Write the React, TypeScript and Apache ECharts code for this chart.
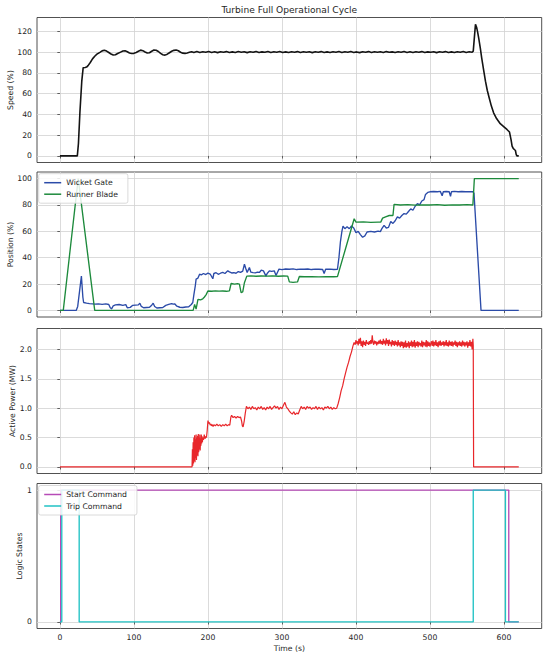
import React, { useEffect, useRef } from "react";
import * as echarts from "echarts";

const titleText = "Turbine Full Operational Cycle";
const xTicks = [0, 100, 200, 300, 400, 500, 600];
const speedTicks = [0, 20, 40, 60, 80, 100, 120];
const posTicks = [0, 20, 40, 60, 80, 100];
const powerTicks = [0, 0.5, 1.0, 1.5, 2.0];
const logicTicks = [0, 1];

const speed: number[][] = [
  [0,0],[23.5,0],[25,12],[27,42],[29.5,72],[31.4,85],[34,85.2],[36,85.6],[38,87],[41,90],[44,93.5],[47,96],[50,98],[54,99.8],[57,101.2],[60,101.8],[63,101],[66,99.6],[69,98.2],[72,97.2],[75,97.4],[78,98.6],[82,100],[85,101],[88,101.3],[91,100.4],[94,99.2],[97,98.7],[100,98.8],[103,99.6],[106,100.8],[109,101.9],[112,101.4],[115,100.1],[118,99.2],[121,99.4],[124,100.8],[127,102],[130,101.8],[133,100.6],[136,98.8],[139,97.5],[142,97.1],[145,98],[148,99.4],[151,100.8],[154,101.7],[157,102],[160,101.3],[163,99.9],[166,99],[169,98.8],[172,99.2],[175,99.8],
  [178,100.4],[181,99.7],[185,100.5],[189,99.6],[193,100.4],[197,99.8],[201,100.6],[205,99.7],[209,100.3],[213,99.5],[217,100.4],[221,99.9],[225,100.5],[229,99.6],[233,100.2],[237,99.7],[241,100.5],[245,99.8],[249,100.4],[253,99.5],[257,100.3],[261,99.8],[265,100.5],[269,99.6],[273,100.2],[277,99.9],[281,100.6],[285,99.6],[289,100.3],[293,99.8],[297,100.5],[301,99.7],[305,100.2],[309,99.6],[313,100.4],[317,99.9],[321,100.5],[325,99.6],[329,100.3],[333,99.8],[337,100.4],[341,99.5],[345,100.3],[349,99.9],[353,100.5],[357,99.7],[361,100.2],[365,99.6],[369,100.4],[373,99.8],[377,100.5],[381,99.6],[385,100.3],[389,99.8],[393,100.6],[397,99.7],[401,100.2],[405,99.5],[409,100.4],[413,99.9],[417,100.5],[421,99.6],[425,100.3],[429,99.8],[433,100.4],[437,99.6],[441,100.5],[445,99.9],[449,100.2],[453,99.6],[457,100.4],[461,99.8],[465,100.5],[469,99.7],[473,100.3],[477,99.6],[481,100.4],[485,99.9],[489,100.5],[493,99.6],[497,100.2],[501,99.8],[505,100.4],[509,99.5],[513,100.3],[517,99.9],[521,100.5],[525,99.7],[529,100.2],[533,99.6],[537,100.4],[541,99.8],[545,100.5],[549,99.7],[553,100.3],[557,99.9],
  [558.5,101],[560,114],[561.5,126.7],[563,124],[564.5,119],[566,113],[568,104],[570,94],[572.5,83],[575,72],[577.5,63],[580,56],[583,48],[586,41.5],[590,36],[595,31],[600,28],[604,25.5],[607.5,23],[609.5,16],[611,9.5],[612.5,7.2],[614,6.2],[615.5,5.2],[616.5,1.5],[617.5,0],[620,0]
];

const wicketGate: number[][] = [
  [0,0],[22,0],[24,3],[29,26],[31,10],[32,6],[36,5.5],[40,5.2],[44,5],[47,4.8],[52,5],[57,4.6],[62,5],[66,4.5],[68,2],[70,1.2],[72,3.5],[75,4.2],[80,4.5],[85,3.8],[89,4.4],[91,2],[95,2.3],[98,3.8],[102,4],[106,4.2],[108,5.5],[110,3],[113,2],[117,2.2],[121,2.4],[124,4],[126,5.5],[128,3],[131,1.8],[135,2],[139,2.2],[143,3.8],[147,4.5],[151,5.2],[153,4.8],[155,5],[158,3.2],[162,2.4],[166,2.2],[170,2.6],[174,2.8],[177.5,4.5],[179.5,6],[181,12],[183,19],[184,23.7],[186.5,24.5],[188.7,27.5],[191,27],[194,28],[197,27.2],[200,28.3],[203,27.6],[206.6,24],[208,28],[211,28.6],[214,27.4],[217,28.2],[220,28.8],[223,28],[226.8,30],[229,29.2],[232,28.4],[235,28.6],[238,28.2],[241,29.5],[244,28.8],[247,29.8],[249.3,35],[251,32],[253,28.8],[256,32.6],[258,29],[261,28.7],[264,28.5],[267,29],[269.5,28.8],[272,30.5],[275,30],[278.4,26],[280,28],[283,30],[286,29.6],[289.6,30],[292,26.5],[294,29],[296,31.3],[300,31],[305,31.4],[310,31.2],[315,31.5],[320,31],[325,31.3],[330,31.2],[335,31.4],[340,31],[345,31.3],[350,31.2],[355,31],[357,28],[359,31.2],[365,31.3],[370,31],[375,31.2],[377,40],[379,52],[381,60],[382.5,64],[385,62],[388,63.5],[391,62],[394,64],[397,62.5],[400,59],[403,60],[406,57.5],[409,55.5],[412,56.5],[415,59.5],[420,60],[425,59.5],[430,60.2],[433,59.8],[435,62],[438,64.5],[441,62.5],[444,63],[447,67.5],[450,66],[453,68],[456,71],[459,70],[462,72],[465,73.5],[468,73],[471,75],[474,77],[477,76],[480,79],[483,81],[486,80],[489,83],[492,84],[494,88],[497,89.5],[500,90],[505,90.2],[510,90],[514,90.3],[516.5,87],[518,90],[522,90.2],[526,90],[527.8,86.5],[529,90],[533,90.3],[538,90],[543,90.2],[548,90],[553,90.1],[558,90],[559.5,89],[569,0],[620,0]
];

const runnerBlade: number[][] = [
  [0,0],[4.5,0],[24.7,100],[47,0],[180,0],[182,4.5],[184,1],[186.5,8.4],[190,8],[193,8.8],[195,10],[197.6,12],[199.9,14.7],[205,14.5],[210,14.8],[215,14.6],[220,14.7],[225,14.5],[229,14.8],[231.3,20.4],[236,20],[240,20.3],[242.5,20],[244.8,13.5],[247,14],[249.3,21],[252.5,26],[258,26.2],[265,25.9],[272,26.1],[280,26],[287,26.2],[295,25.9],[302,26.1],[307.8,26],[310,21.6],[315,21.3],[321,21.6],[323.5,25.7],[330,25.5],[340,25.6],[350,25.4],[360,25.6],[370,25.5],[375,25.6],[386,47],[397.6,69.5],[400,67],[410,67.2],[420,66.8],[430,67],[433.5,67],[436,70],[440,71],[445,72],[450,72],[451.5,80.4],[460,80],[470,80.2],[480,79.9],[490,80.1],[500,80],[510,80.2],[520,79.8],[530,80.1],[540,80],[550,80.2],[558,80],[560,100],[620,100]
];

const activePower: number[][] = [
  [0,0],[178.5,0],[179,0.3],[179.5,0.02],[180,0.42],[180.5,0.06],[181,0.5],[181.5,0.1],[182,0.54],[182.5,0.08],[183,0.47],[183.5,0.15],[184,0.55],[184.5,0.12],[185,0.5],[185.5,0.2],[186,0.53],[186.5,0.18],[187,0.56],[187.5,0.25],[188,0.5],[188.5,0.3],[189,0.55],[189.5,0.28],[190,0.48],[190.5,0.36],[191,0.55],[191.5,0.4],[192,0.52],[192.5,0.42],[193,0.5],[194,0.46],[195,0.55],[196,0.48],[197,0.52],[198,0.5],[199,0.62],[200,0.79],[201,0.74],[202,0.76],[203,0.71],[204,0.73],[205,0.7],[206,0.72],[207,0.69],[208,0.72],[210,0.7],[212,0.73],[214,0.7],[216,0.72],[218,0.69],[220,0.72],[222,0.7],[224,0.73],[226,0.7],[228,0.72],[229.5,0.71],[231,0.85],[232,0.88],[234,0.84],[236,0.86],[238,0.83],[240,0.86],[242,0.84],[244,0.85],[245.5,0.78],[246.5,0.7],[247.5,0.68],[249,0.78],[250.5,0.92],[252,1.03],[254,0.99],[256,1.02],[258,0.98],[260,1.03],[262,0.99],[264,1.01],[266,0.97],[268,1.02],[270,0.99],[272,1.03],[274,0.98],[276,1.01],[278,0.97],[280,1.02],[282,0.99],[284,1.03],[286,0.98],[288,1.01],[290,1.04],[292,1.0],[294,1.03],[296,0.98],[298,1.02],[300,0.99],[302,1.05],[304,1.1],[306,1.02],[308,0.99],[310,0.95],[312,0.92],[314,0.9],[316,0.94],[318,0.89],[320,0.92],[322,0.9],[324,0.97],[326,1.03],[328,0.99],[330,1.02],[332,0.98],[334,1.03],[336,1.0],[338,1.02],[340,0.98],[342,1.01],[344,0.99],[346,1.03],[348,0.98],[350,1.02],[352,0.99],[354,1.01],[356,0.97],[358,1.02],[360,1.0],[362,1.03],[364,0.99],[366,1.02],[368,0.98],[370,1.01],[372,0.99],[374,1.0],[376,1.08],[378,1.18],[380,1.3],[382,1.38],[384,1.5],[386,1.6],[388,1.7],[390,1.78],[392,1.88],[394,1.96],[396,2.06],[397.5,2.12],[399,2.08],[400,2.16],[401,2.1],[402,2.14],[403,2.07],[404,2.18],[405,2.1],[406,2.2],[407,2.06],[408,2.14],[409,2.04],[410,2.15],[411,2.08],[412,2.13],[413,2.06],[414,2.16],[415,2.1],[416,2.12],[417,2.08],[418,2.14],[419,2.09],[420,2.16],[421,2.1],[422,2.24],[423,2.12],[424,2.08],[425,2.15],[426,2.1],[427,2.14],[428,2.07],[429,2.13],[430,2.09],[431,2.15],[432,2.1],[433,2.17],[434,2.09],[435,2.14],[436,2.08],[437,2.18],[438,2.1],[439,2.15],[440,2.07],[441,2.19],[442,2.1],[443,2.16],[444,2.06],[445,2.17],[446,2.09],[447,2.13],[448,2.05],[449,2.16],[450,2.08],[451,2.14],[452,2.06],[453,2.15],[454,2.08],[455,2.13],[456,2.05],[457,2.16],[458,2.07],[459,2.12],[460,2.04],[461,2.14],[462,2.06],[463,2.13],[464,2.02],[465,2.12],[466,2.04],[467,2.15],[468,2.03],[469,2.11],[470,2.05],[471,2.14],[472,2.02],[473,2.12],[474,2.06],[475,2.15],[476,2.04],[477,2.13],[478,2.05],[479,2.16],[480,2.03],[481,2.12],[482,2.06],[483,2.14],[484,2.04],[485,2.13],[486,2.07],[487,2.11],[488,2.05],[489,2.15],[490,2.04],[491,2.13],[492,2.07],[493,2.12],[494,2.05],[495,2.16],[496,2.04],[497,2.14],[498,2.06],[499,2.12],[500,2.05],[502,2.14],[503,2.06],[504,2.15],[505,2.05],[506,2.13],[507,2.07],[508,2.16],[509,2.06],[510,2.12],[511,2.04],[512,2.14],[513,2.07],[514,2.15],[515,2.06],[516,2.12],[517,2.08],[518,2.14],[519,2.05],[520,2.13],[521,2.07],[522,2.16],[523,2.06],[524,2.12],[525,2.05],[526,2.15],[527,2.07],[528,2.13],[529,2.06],[530,2.14],[531,2.05],[532,2.12],[533,2.08],[534,2.15],[535,2.06],[536,2.13],[537,2.04],[538,2.12],[539,2.07],[540,2.14],[541,2.06],[542,2.12],[543,2.05],[544,2.15],[545,2.07],[546,2.13],[547,2.05],[548,2.12],[549,2.07],[550,2.14],[551,2.03],[552,2.12],[553,2.06],[554,2.16],[555,2.05],[556,2.13],[557,2.0],[558,2.18],[558.5,2.07],[559,0],[620,0]
];

const startCommand: number[][] = [
  [0,0],[1,0],[1,1],[606.5,1],[606.5,0],[620,0]
];
const tripCommand: number[][] = [
  [0,0],[2.5,0],[2.5,1],[26,1],[26,0],[558.5,0],[558.5,1],[602,1],[602,0],[620,0]
];

const FONT = "DejaVu Sans";
const TXT = "#262626";
const AX = "#3d3d3d";
const GRIDC = "#d2d2d2";

const tops = [17.5, 172, 328.5, 483.5];
const H = 145;
const LEFT = 37;
const RIGHT = 8.3;

export default function App() {
  const ref = useRef<HTMLDivElement>(null);
  useEffect(() => {
    if (!ref.current) return;
    const chart = echarts.init(ref.current, null, { renderer: "svg" });

    const yConf = [
      { min: -6.35, max: 133.35, ticks: speedTicks, name: "Speed (%)", gap: 22.5, fmt: (v: number) => String(v) },
      { min: -5, max: 105, ticks: posTicks, name: "Position (%)", gap: 22.5, fmt: (v: number) => String(v) },
      { min: -0.112, max: 2.357, ticks: powerTicks, name: "Active Power (MW)", gap: 20.5, fmt: (v: number) => v.toFixed(1) },
      { min: -0.05, max: 1.05, ticks: logicTicks, name: "Logic States", gap: 13.5, fmt: (v: number) => String(v) },
    ];

    const grid = tops.map((t) => ({
      left: LEFT, right: RIGHT, top: t, height: H,
      show: true, borderColor: AX, borderWidth: 0.9, backgroundColor: "transparent",
      outerBoundsMode: "none",
      containLabel: false,
    }));

    const xAxis = tops.map((_, i) => ({
      type: "value", gridIndex: i, min: -31, max: 651,
      axisLine: { show: false },
      axisTick: { show: true, length: 2.6, lineStyle: { color: AX, width: 0.8 }, customValues: xTicks },
      axisLabel: { show: i === 3, customValues: xTicks, fontSize: 7.7, color: TXT, margin: 5, fontFamily: FONT },
      splitLine: { show: true, lineStyle: { color: GRIDC, width: 0.8 } },
      name: i === 3 ? "Time (s)" : "",
      nameLocation: "middle", nameGap: 15.5, nameMoveOverlap: false,
      nameTextStyle: { fontSize: 7.7, color: TXT, fontFamily: FONT },
    }));

    const yAxis = yConf.map((c, i) => ({
      type: "value", gridIndex: i, min: c.min, max: c.max,
      axisLine: { show: false },
      axisTick: { show: true, length: 2.6, lineStyle: { color: AX, width: 0.8 }, customValues: c.ticks },
      axisLabel: { show: true, customValues: c.ticks, fontSize: 7.7, color: TXT, margin: 5, fontFamily: FONT, formatter: c.fmt },
      splitLine: { show: true, lineStyle: { color: GRIDC, width: 0.8 } },
      name: c.name, nameLocation: "middle", nameGap: c.gap, nameMoveOverlap: false,
      nameTextStyle: { fontSize: 7.7, color: TXT, fontFamily: FONT },
    }));

    const line = (name: string, data: number[][], idx: number, color: string, width: number) => ({
      name, type: "line", data, xAxisIndex: idx, yAxisIndex: idx,
      symbol: "none", showSymbol: false, clip: true,
      lineStyle: { color, width }, itemStyle: { color },
    });

    const legendBase = {
      orient: "vertical", left: 38.7, itemWidth: 17, itemHeight: 1.5, itemGap: 2.5,
      icon: "rect",
      padding: [4.5, 10, 4.5, 5.5],
      backgroundColor: "rgba(255,255,255,0.85)", borderColor: "#d0d0d0", borderWidth: 0.8, borderRadius: 2,
      textStyle: { fontSize: 7.7, color: TXT, fontFamily: FONT, lineHeight: 9 },
      selectedMode: false,
    };

    chart.setOption({
      animation: false,
      backgroundColor: "#ffffff",
      textStyle: { fontFamily: FONT },
      title: {
        text: titleText, left: 289.3, top: 5.5, textAlign: "center", padding: 0,
        textStyle: { fontSize: 9.1, fontWeight: "normal", color: TXT, fontFamily: FONT },
      },
      legend: [
        { ...legendBase, top: 173.7, data: ["Wicket Gate", "Runner Blade"] },
        { ...legendBase, top: 485.5, data: ["Start Command", "Trip Command"] },
      ],
      grid, xAxis, yAxis,
      series: [
        line("Speed", speed, 0, "#141414", 1.6),
        line("Wicket Gate", wicketGate, 1, "#2b4ba8", 1.35),
        line("Runner Blade", runnerBlade, 1, "#1d8a3c", 1.35),
        line("Active Power", activePower, 2, "#e8262a", 1.2),
        line("Start Command", startCommand, 3, "#b64ab6", 1.35),
        line("Trip Command", tripCommand, 3, "#20c2c4", 1.35),
      ],
    });
    return () => chart.dispose();
  }, []);
  return <div ref={ref} style={{ position: "absolute", left: 0, top: 0, width: 550, height: 657, background: "#fff" }} />;
}
